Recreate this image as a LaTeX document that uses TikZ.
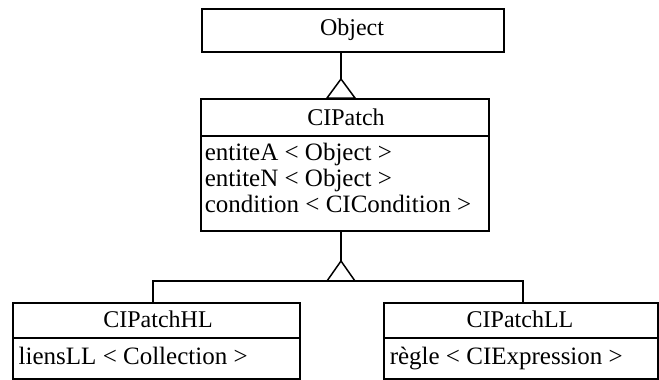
\documentclass[tikz,border=0pt]{standalone}
\usepackage{fontspec}
\setmainfont{Liberation Serif}
\begin{document}
\begin{tikzpicture}[x=1pt,y=-1pt,line width=1.5pt,
  box/.style={draw,line width=1.5pt,inner sep=0pt,anchor=north west},
  lbl/.style={font=\fontsize{24}{26}\selectfont,inner sep=0pt,anchor=base},
  attr/.style={font=\fontsize{25}{26}\selectfont,inner sep=0pt,anchor=base west}]
\useasboundingbox (0,0) rectangle (659,380);
% Object
\node[box,minimum width=302pt,minimum height=43pt] (obj) at (201,8) {};
\node[lbl] (objt) at (352,35) {Object};
% CIPatch
\node[box,minimum width=288pt,minimum height=37pt] (cph) at (200,98) {};
\node[box,minimum width=288pt,minimum height=95pt] (cpb) at (200,135) {};
\node[lbl] (cpt) at (346,125) {CIPatch};
\node[attr] (cpa1) at (204,160) {entiteA < Object >};
\node[attr] (cpa2) at (204,186) {entiteN < Object >};
\node[attr] (cpa3) at (204,212) {condition < CICondition >};
% CIPatchHL
\node[box,minimum width=287pt,minimum height=35pt] (hlh) at (12,302) {};
\node[box,minimum width=287pt,minimum height=41pt] (hlb) at (12,337) {};
\node[lbl] (hlt) at (158,327) {CIPatchHL};
\node[attr] (hla1) at (18,364) {liensLL < Collection >};
% CIPatchLL
\node[box,minimum width=274pt,minimum height=35pt] (llh) at (383,302) {};
\node[box,minimum width=274pt,minimum height=41pt] (llb) at (383,337) {};
\node[lbl] (llt) at (520,327) {CIPatchLL};
\node[attr] (lla1) at (389,364) {règle < CIExpression >};
% generalisation Object <- CIPatch
\coordinate (t1) at (341,79);
\coordinate (t1l) at (327,98);
\coordinate (t1r) at (355,98);
\draw (t1 |- obj.south) -- (t1);
\draw[line join=miter] (t1) -- (t1l) -- (t1r) -- cycle;
% generalisation CIPatch <- HL, LL
\coordinate (t2) at (341,261);
\coordinate (t2l) at (327,281);
\coordinate (t2r) at (355,281);
\coordinate (hl) at (153,281);
\coordinate (ll) at (523,281);
\draw (t2 |- cpb.south) -- (t2);
\draw[line join=miter] (t2) -- (t2l) -- (t2r) -- cycle;
\draw (hl |- hlh.north) -- (hl) -- (ll) -- (ll |- llh.north);
\end{tikzpicture}
\end{document}
